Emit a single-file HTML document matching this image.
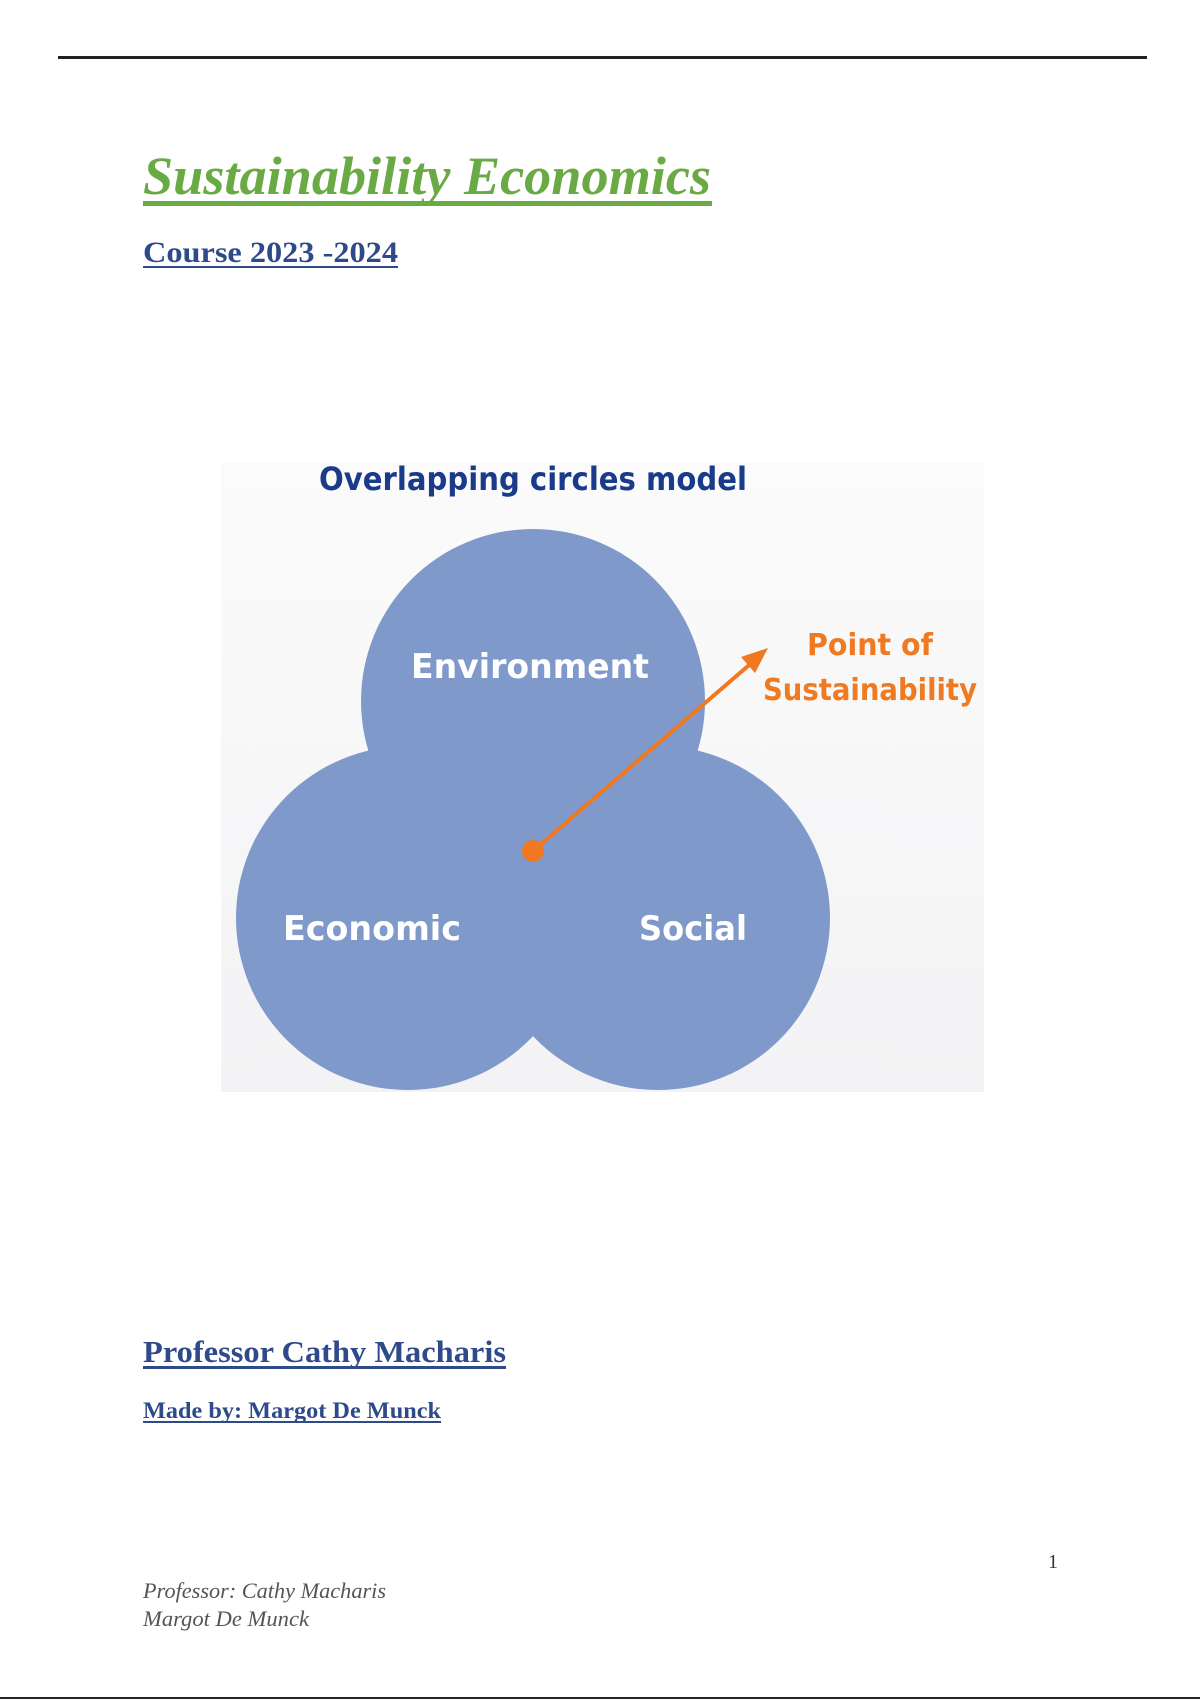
<!DOCTYPE html>
<html><head><meta charset="utf-8"><style>
html,body{margin:0;padding:0;background:#fff;}
svg{display:block;}
</style></head><body>
<svg width="1200" height="1700" viewBox="0 0 1200 1700" xmlns="http://www.w3.org/2000/svg">
<defs>
<linearGradient id="bg" x1="0" y1="0" x2="0" y2="1">
<stop offset="0" stop-color="#fbfbfb"/><stop offset="1" stop-color="#f3f3f5"/>
</linearGradient>
</defs>
<rect x="58" y="56" width="1089" height="3" fill="#222"/>
<rect x="0" y="1697" width="1200" height="2" fill="#222"/>

<text x="143" y="194" font-family="Liberation Serif" font-style="italic" font-weight="bold" font-size="54" fill="#6aaa45" textLength="568" lengthAdjust="spacingAndGlyphs">Sustainability Economics</text>
<rect x="143" y="201" width="569" height="5" fill="#6aaa45"/>

<text x="143" y="262" font-family="Liberation Serif" font-weight="bold" font-size="30" fill="#2e4a8a" textLength="255" lengthAdjust="spacingAndGlyphs">Course 2023 -2024</text>
<rect x="143" y="266" width="255" height="2" fill="#2e4a8a"/>

<rect x="221" y="462" width="763" height="630" fill="url(#bg)"/>
<text x="533" y="490" text-anchor="middle" font-family="DejaVu Sans" font-weight="bold" font-size="32" fill="#1a3a8a" textLength="428" lengthAdjust="spacingAndGlyphs">Overlapping circles model</text>

<g fill="#7f99cb">
<circle cx="533" cy="701" r="172"/>
<circle cx="408" cy="918" r="172"/>
<circle cx="658" cy="918" r="172"/>
</g>
<g font-family="DejaVu Sans" font-weight="bold" fill="#fff" text-anchor="middle">
<text x="530" y="678" font-size="34" textLength="238" lengthAdjust="spacingAndGlyphs">Environment</text>
<text x="372" y="940" font-size="34" textLength="178" lengthAdjust="spacingAndGlyphs">Economic</text>
<text x="693" y="940" font-size="34" textLength="108" lengthAdjust="spacingAndGlyphs">Social</text>
</g>

<line x1="533" y1="851" x2="755" y2="660" stroke="#f07820" stroke-width="4"/>
<polygon points="768,648 741,657 755,673" fill="#f07820"/>
<circle cx="533" cy="851" r="11" fill="#f07820"/>
<g font-family="DejaVu Sans" font-weight="bold" fill="#ef7a22" text-anchor="middle" font-size="30">
<text x="870" y="655" textLength="126" lengthAdjust="spacingAndGlyphs">Point of</text>
<text x="870" y="700" textLength="214" lengthAdjust="spacingAndGlyphs">Sustainability</text>
</g>

<text x="143" y="1362" font-family="Liberation Serif" font-weight="bold" font-size="31" fill="#2e4a8a" textLength="363" lengthAdjust="spacingAndGlyphs">Professor Cathy Macharis</text>
<rect x="143" y="1366" width="363" height="3" fill="#2e4a8a"/>
<text x="143" y="1418" font-family="Liberation Serif" font-weight="bold" font-size="23" fill="#2e4a8a" textLength="298" lengthAdjust="spacingAndGlyphs">Made by: Margot De Munck</text>
<rect x="143" y="1421" width="298" height="2" fill="#2e4a8a"/>

<text x="1053" y="1568" text-anchor="middle" font-family="Liberation Serif" font-size="20" fill="#333">1</text>
<g font-family="Liberation Serif" font-style="italic" font-size="22" fill="#555">
<text x="143" y="1598" textLength="243" lengthAdjust="spacingAndGlyphs">Professor: Cathy Macharis</text>
<text x="143" y="1626" textLength="166" lengthAdjust="spacingAndGlyphs">Margot De Munck</text>
</g>
</svg>
</body></html>
